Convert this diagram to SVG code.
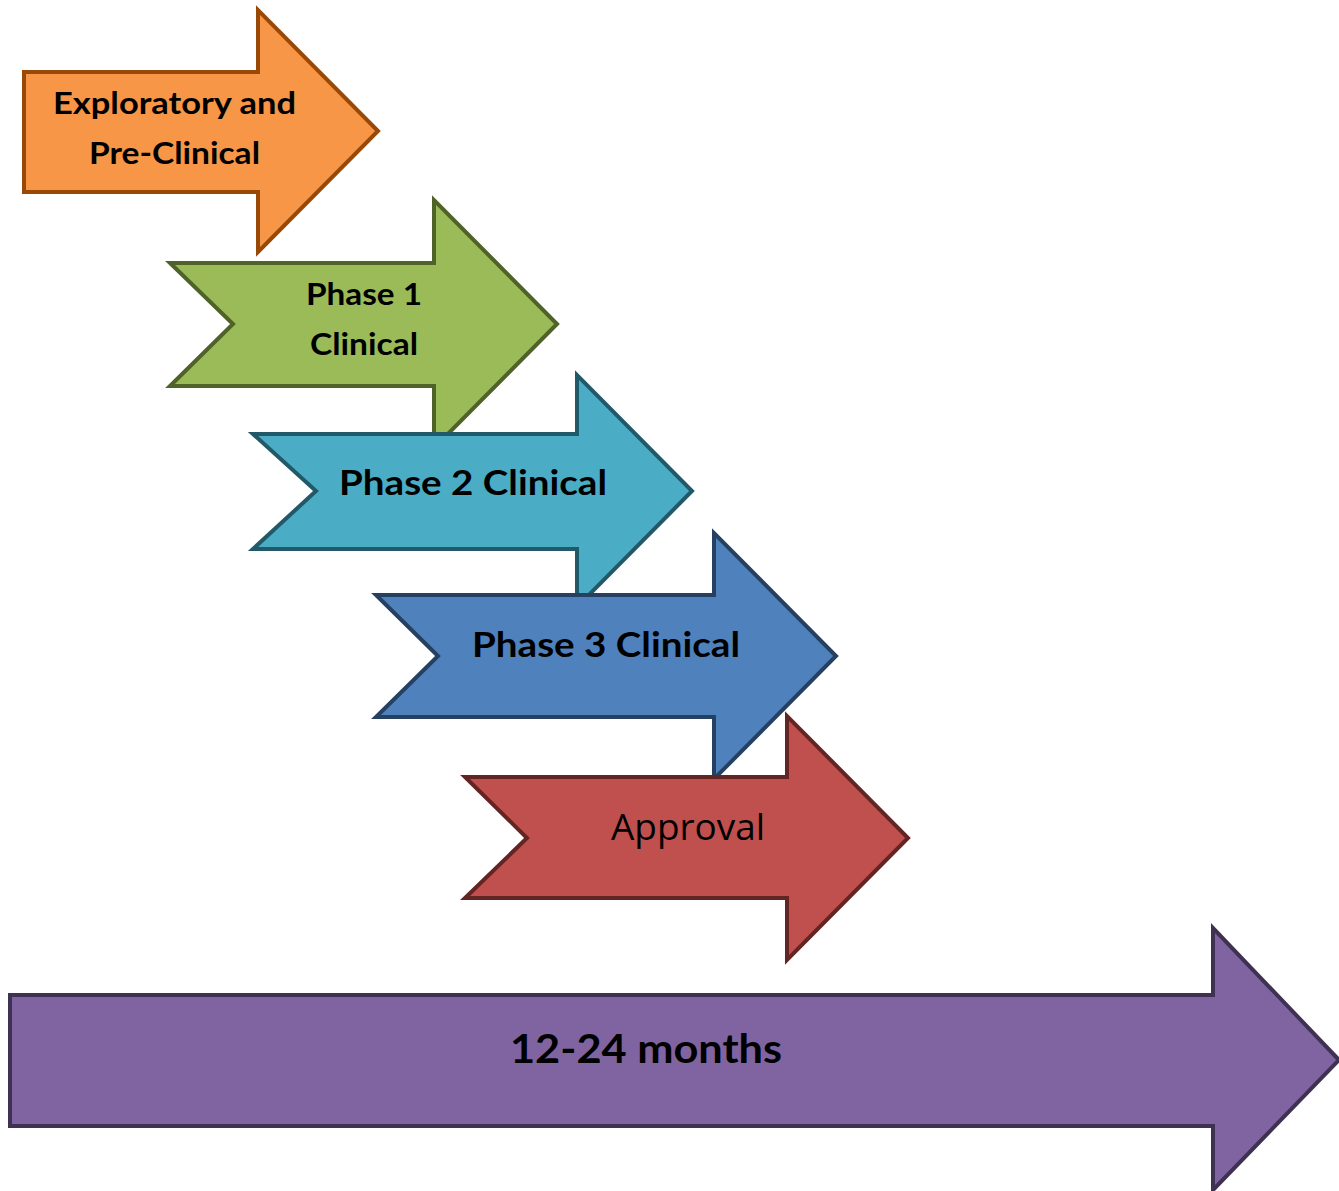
<svg xmlns="http://www.w3.org/2000/svg" width="1339" height="1191" viewBox="0 0 1339 1191">
<style>
.a{stroke-width:4;stroke-linejoin:miter}
.b{font-family:Lato,"Open Sans","Liberation Sans",sans-serif;font-weight:bold;fill:#000;text-anchor:middle}
.r{font-family:"Open Sans","Noto Sans","Liberation Sans",sans-serif;font-weight:normal;fill:#000;text-anchor:middle}
</style>
<rect width="1339" height="1191" fill="#fff"/>
<g id="connectors"></g>
<g id="exploratory">
<polygon class="a" fill="#F79646" stroke="#984807" points="24,72 258,72 258,10 378,131 258,252 258,192 24,192"/>
<text class="b" x="174.5" y="114" font-size="30" textLength="243" lengthAdjust="spacingAndGlyphs">Exploratory and</text>
<text class="b" x="174.5" y="164" font-size="30" textLength="171" lengthAdjust="spacingAndGlyphs">Pre-Clinical</text>
</g>
<g id="phase1">
<polygon class="a" fill="#9BBB59" stroke="#4F6228" points="170,263 434,263 434,200 557,324 434,448 434,386 170,386 233,324"/>
<text class="b" x="364" y="305" font-size="30" textLength="116" lengthAdjust="spacingAndGlyphs">Phase 1</text>
<text class="b" x="364" y="355" font-size="30" textLength="108" lengthAdjust="spacingAndGlyphs">Clinical</text>
</g>
<g id="phase2">
<polygon class="a" fill="#4BACC6" stroke="#215968" points="253,434 577,434 577,375 692,491 577,607 577,549 253,549 316,491"/>
<text class="b" x="473" y="495" font-size="35" textLength="268" lengthAdjust="spacingAndGlyphs">Phase 2 Clinical</text>
</g>
<g id="phase3">
<polygon class="a" fill="#4F81BD" stroke="#254061" points="376,595 714,595 714,533 836,656 714,779 714,717 376,717 438,656"/>
<text class="b" x="606" y="657" font-size="35" textLength="268" lengthAdjust="spacingAndGlyphs">Phase 3 Clinical</text>
</g>
<g id="approval">
<polygon class="a" fill="#C0504D" stroke="#632523" points="465,777 787,777 787,716 908,838 787,960 787,898 465,898 527,838"/>
<text class="r" x="688" y="840" font-size="37" textLength="154" lengthAdjust="spacingAndGlyphs">Approval</text>
</g>
<g id="timeline">
<polygon class="a" fill="#8064A2" stroke="#3F3151" points="10,995 1213,995 1213,928 1339,1060 1213,1190 1213,1126 10,1126"/>
<text class="b" x="646" y="1063" font-size="41" textLength="272" lengthAdjust="spacingAndGlyphs">12-24 months</text>
</g>
</svg>
